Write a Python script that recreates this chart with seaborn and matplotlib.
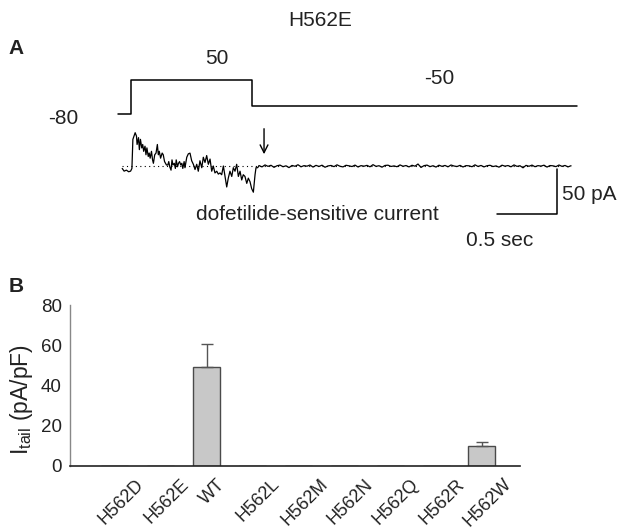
import numpy as np
import pandas as pd
import seaborn as sns
import matplotlib
matplotlib.use("Agg")
import matplotlib.pyplot as plt
import matplotlib.transforms as mtransforms

# ---- data ----
# voltage protocol (s, mV)
prot_t = [0.0, 0.108, 1.117, 3.825]
prot_v = [-80, 50, -50, -50]

# dofetilide-sensitive current during the step (s, pA)
trace_t = [0.035, 0.051, 0.070, 0.089, 0.105, 0.116, 0.124, 0.143, 0.154, 0.159,
           0.171, 0.178, 0.187, 0.198, 0.206, 0.214, 0.225, 0.233, 0.241, 0.252,
           0.260, 0.268, 0.279, 0.288, 0.295, 0.306, 0.317, 0.328, 0.336, 0.344,
           0.355, 0.368, 0.377, 0.388, 0.396, 0.404, 0.415, 0.423, 0.431, 0.442,
           0.450, 0.458, 0.469, 0.478, 0.485, 0.496, 0.504, 0.513, 0.523, 0.532,
           0.540, 0.551, 0.558, 0.573, 0.586, 0.600, 0.614, 0.628, 0.642, 0.656,
           0.669, 0.683, 0.698, 0.711, 0.725, 0.739, 0.753, 0.767, 0.781, 0.794,
           0.808, 0.823, 0.836, 0.850, 0.864, 0.878, 0.892, 0.906, 0.919, 0.933,
           0.948, 0.961, 0.975, 0.989, 1.003, 1.017, 1.031, 1.044, 1.058, 1.073,
           1.086, 1.100, 1.114, 1.128, 1.142, 1.150, 1.164]
trace_i = [-2.7, -5.7, -4.6, -6.4, -5.7, -2.7, 29.6, 37.0, 33.2, 23.9,
           31.5, 18.2, 29.6, 20.1, 23.9, 16.3, 22.0, 12.5, 20.1, 10.6,
           14.4, 8.7, 16.3, 6.8, 3.0, 12.5, 14.4, 23.9, 12.5, 16.3,
           8.7, 14.4, 12.5, 4.9, 3.0, 1.1, 1.1, 4.9, -0.8, -4.6,
           6.8, 1.1, 3.0, -2.7, 6.8, -0.8, 3.0, 4.9, 1.1, 3.0,
           -2.7, 4.9, -1.9, 9.7, 13.5, 14.3, 5.8, 1.9, -3.9, 1.9,
           -5.8, 5.8, -1.9, 9.7, 3.9, 11.6, 1.9, 7.7, -5.8, 0.0,
           -7.7, -5.8, -9.0, -7.7, -9.7, 0.0, -11.6, -23.3, -13.5, -5.8,
           -11.6, -1.9, -5.8, 1.9, -11.6, -5.8, -15.5, -9.7, -11.6, -19.3,
           -13.5, -17.4, -25.2, -29.1, -9.7, -1.9, -1.9]

# tail current at -50 mV, sampled every 25 ms from 1.175 s (pA)
tail_t0 = 1.175
tail_dt = 0.025
tail_i = [0.5, -1.0, 1.2, -0.4, 0.8, -1.5, 0.3, 1.0, -0.8, 0.2,
          -1.8, 0.6, -0.3, 1.4, -0.9, 0.4, -0.2, 1.1, -1.2, 0.7,
          -0.5, 0.9, -1.4, 0.1, 0.6, -0.7, 1.3, -0.3, -1.0, 0.8,
          0.2, -0.6, 1.0, -1.1, 0.4, -0.2, 0.7, -0.9, 1.5, -0.4,
          0.3, -1.3, 0.6, 0.9, -0.5, 0.1, -0.8, 1.2, -0.3, 0.5,
          -1.0, 0.8, -0.2, 2.2, -1.6, 0.4, 1.0, -0.7, 0.3, -1.2,
          0.9, -0.4, 0.6, -0.9, 1.1, 0.0, -0.6, 0.7, -1.1, 0.4,
          0.2, -0.8, 1.3, -0.5, 0.6, -1.0, 0.3, 0.8, -0.6, 0.1,
          -1.3, 0.9, -0.2, 0.5, -0.9, 1.2, -0.4, 0.3, -2.0, 0.7,
          -0.3, 1.0, -0.8, 0.4, -0.1, 0.9, -1.2, 0.5, 0.2, -0.7,
          1.1, -0.4, 0.6, -1.0, 0.3]

# panel B
variants = ["H562D", "H562E", "WT", "H562L", "H562M", "H562N", "H562Q", "H562R", "H562W"]
itail = [0, 0, 49.2, 0, 0, 0, 0, 0, 10.1]
itail_err = [0, 0, 11.4, 0, 0, 0, 0, 0, 2.0]

# ---- style ----
sns.set_style("white")
plt.rcParams["font.family"] = ["Liberation Sans", "DejaVu Sans"]
plt.rcParams["mathtext.fontset"] = "custom"
plt.rcParams["mathtext.rm"] = "Liberation Sans"
plt.rcParams["mathtext.it"] = "Liberation Sans"

W, H = 641, 531
TXT = "#222222"


def box(x0, y0, x1, y1):
    # pixel box (top-left origin) -> figure rect
    return [x0 / W, 1 - y1 / H, (x1 - x0) / W, (y1 - y0) / H]


def ftext(x, y, s, **kw):
    fig.text(x / W, 1 - y / H, s, color=TXT, va="center", **kw)


fig = plt.figure(figsize=(W / 100, H / 100), dpi=100)

# time axis: 118 px = 0 s, 120 px per s
t_lim = ((100 - 118) / 120, (600 - 118) / 120)

# ---- panel A: protocol ----
ax_v = fig.add_axes(box(100, 70, 600, 125))
ax_v.plot(prot_t, prot_v, drawstyle="steps-post", color="black", lw=1.1)
ax_v.set_xlim(*t_lim)
ax_v.set_ylim(-80 - 11 / 0.2615, -80 + 44 / 0.2615)
ax_v.axis("off")

# ---- panel A: current ----
ax_i = fig.add_axes(box(100, 120, 600, 225))
tail_t = tail_t0 + tail_dt * np.arange(len(tail_i))
df_trace = pd.DataFrame({"t": list(trace_t) + list(tail_t),
                         "i": list(trace_i) + list(tail_i)})
sns.lineplot(data=df_trace, x="t", y="i", color="black", lw=0.9, ax=ax_i,
             estimator=None, sort=False)
ax_i.plot([trace_t[0], tail_t[-1]], [0, 0], color="black", lw=0.8,
          linestyle=(0, (1, 3)))
ax_i.set_xlim(*t_lim)
ax_i.set_ylim((166 - 225) / 0.9, (166 - 120) / 0.9)
ax_i.axis("off")

# arrow marking tail onset
ax_i.annotate("", xy=(1.217, 10), xytext=(1.217, 44.5),
              arrowprops=dict(arrowstyle="->", color="black", lw=1.0,
                              mutation_scale=14))
# scale bars: 50 pA, 0.5 s
ax_i.plot([3.158, 3.658, 3.658], [-53, -53, -3], color="black", lw=1.1)

ftext(320, 20, "H562E", ha="center", fontsize=15)
ftext(16, 48, "A", ha="center", fontsize=15, fontweight="bold")
ftext(217, 58, "50", ha="center", fontsize=15)
ftext(439, 78, "-50", ha="center", fontsize=15)
ftext(63, 118, "-80", ha="center", fontsize=15)
ftext(317, 214, "dofetilide-sensitive current", ha="center", fontsize=15)
ftext(562, 194, "50 pA", ha="left", fontsize=15)
ftext(500, 240, "0.5 sec", ha="center", fontsize=15)
ftext(16, 287, "B", ha="center", fontsize=15, fontweight="bold")

# ---- panel B ----
ax_b = fig.add_axes(box(70, 305, 520, 466))
sns.barplot(x=variants, y=itail, order=variants, color="#c8c8c8", saturation=1,
            edgecolor="#4a4a4a", linewidth=1, width=0.59, ax=ax_b)
pos = [k for k, v in enumerate(itail) if v > 0]
ax_b.errorbar(pos, [itail[k] for k in pos],
              yerr=[[0] * len(pos), [itail_err[k] for k in pos]],
              fmt="none", ecolor="#555555", elinewidth=1, capsize=4, capthick=1)
ax_b.set_xlim(-0.98, 8.83)
ax_b.set_ylim(0, 80)
ax_b.set_yticks([0, 20, 40, 60, 80])
ax_b.set_ylabel(r"I$_{\mathregular{tail}}$ (pA/pF)", fontsize=16.5, color=TXT)
ax_b.yaxis.set_label_coords(-0.077, 0.41)
ax_b.tick_params(axis="both", labelsize=13.5, length=4, width=1, color="#777777",
                 direction="out", labelcolor=TXT)
ax_b.tick_params(axis="x", labelsize=13, pad=3)
ax_b.tick_params(axis="y", pad=2)
shift = mtransforms.ScaledTranslation(6 / 100, 0, fig.dpi_scale_trans)
for lab in ax_b.get_xticklabels():
    lab.set_rotation(45)
    lab.set_ha("center")
    lab.set_transform(lab.get_transform() + shift)
sns.despine(ax=ax_b)
ax_b.spines["left"].set_color("#888888")
ax_b.spines["bottom"].set_color("#222222")
ax_b.spines["left"].set_linewidth(1)
ax_b.spines["bottom"].set_linewidth(1.2)

fig.savefig("out.png", dpi=100, facecolor="white")
